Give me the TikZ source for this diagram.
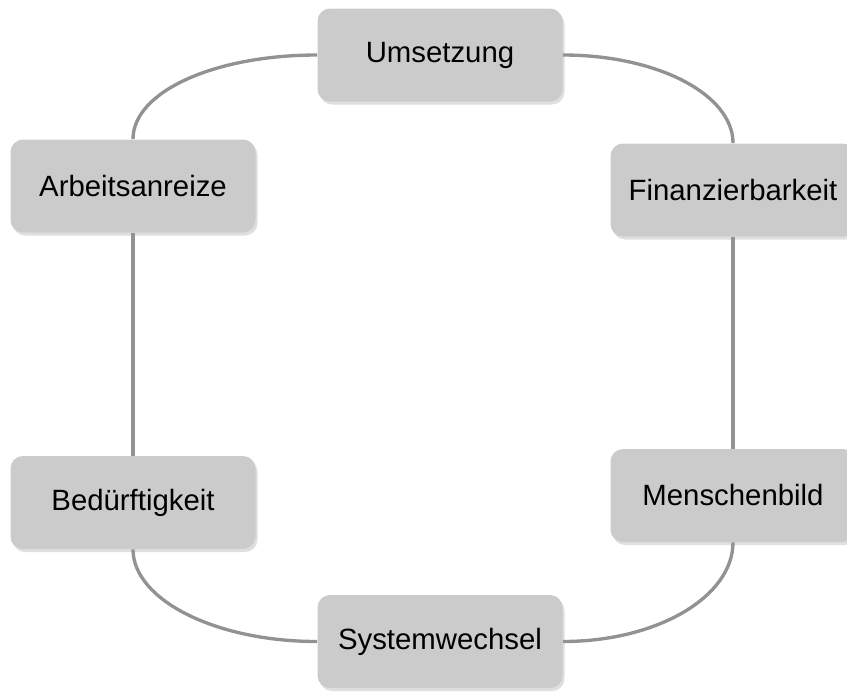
\documentclass[tikz,border=0pt]{standalone}
\usepackage{fontspec}
\setmainfont{Liberation Sans}
\usepackage{tikz}
\usetikzlibrary{positioning, shadows}

\begin{document}
\begin{tikzpicture}[box/.style={rectangle, rounded corners=0.25cm, fill=boxgray, minimum width=4.9cm, minimum height=1.86cm, font=\fontsize{16.7}{20}\selectfont, drop shadow={opacity=0.25, shadow xshift=0.04cm, shadow yshift=-0.06cm}}, link/.style={draw=linegray, line width=1.9pt}]
        \definecolor{boxgray}{HTML}{CBCBCB}
        \definecolor{linegray}{HTML}{929292}
        \useasboundingbox (0,0) rectangle (16.94,-13.82);

        \node (umsetzung) [box] at (8.80,-1.10) {Umsetzung};
        \node (anreize) [box] at (2.66,-3.72) {Arbeitsanreize};
        \node (finanz) [box] at (14.66,-3.80) {Finanzierbarkeit};
        \node (beduerf) [box] at (2.66,-10.05) {Bedürftigkeit};
        \node (mensch) [box] at (14.66,-9.91) {Menschenbild};
        \node (wechsel) [box] at (8.80,-12.83) {Systemwechsel};

        % curved links round the ring
        \draw[link] (umsetzung.west) to[out=180, in=90, out distance=2.05cm, in distance=0.95cm] (anreize.north);
        \draw[link] (umsetzung.east) to[out=0, in=90, out distance=1.9cm, in distance=0.97cm] (finanz.north);
        \draw[link] (anreize.south) -- (beduerf.north);
        \draw[link] (finanz.south) -- (mensch.north);
        \draw[link] (beduerf.south) to[out=-90, in=180, out distance=1.0cm, in distance=2.05cm] (wechsel.west);
        \draw[link] (mensch.south) to[out=-90, in=0, out distance=1.08cm, in distance=1.9cm] (wechsel.east);
    \end{tikzpicture}
\end{document}
